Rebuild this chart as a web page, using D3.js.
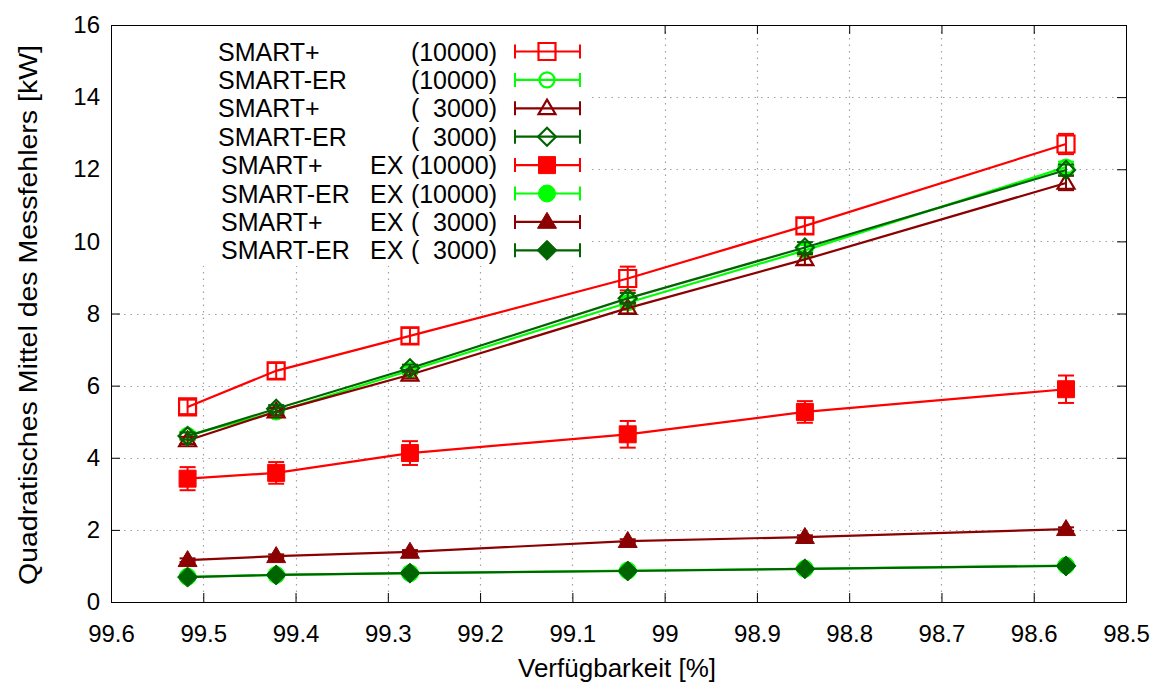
<!DOCTYPE html>
<html>
<head>
<meta charset="utf-8">
<script src="https://cdn.jsdelivr.net/npm/d3@7"></script>
<style>
  html, body { margin: 0; padding: 0; background: #fff; }
  svg { display: block; font-family: "Liberation Sans", Arial, sans-serif; }
</style>
</head>
<body>
<svg id="chart" width="1155" height="686"></svg>
<script>
// Availability (x) of each measurement campaign
const availability = [99.517, 99.421, 99.276, 99.040, 98.848, 98.565];

// RMS of the measurement error [kW] with the half-width of the error bar
const smartPlus10k      = [5.41, 6.41, 7.38, 8.97, 10.43, 12.70];
const smartPlus10kErr   = [0.20, 0.22, 0.22, 0.33, 0.22, 0.28];
const smartEr10k        = [4.62, 5.27, 6.42, 8.30, 9.75, 12.06];
const smartEr10kErr     = [0.10, 0.10, 0.10, 0.15, 0.15, 0.15];
const smartPlus3k       = [4.48, 5.28, 6.30, 8.15, 9.50, 11.62];
const smartPlus3kErr    = [0.10, 0.10, 0.10, 0.15, 0.15, 0.20];
const smartEr3k         = [4.60, 5.36, 6.48, 8.42, 9.83, 11.98];
const smartEr3kErr      = [0.10, 0.10, 0.10, 0.15, 0.15, 0.15];
const smartPlusEx10k    = [3.42, 3.58, 4.13, 4.65, 5.27, 5.90];
const smartPlusEx10kErr = [0.32, 0.30, 0.33, 0.37, 0.30, 0.38];
const smartErEx10k      = [0.70, 0.75, 0.80, 0.87, 0.92, 1.01];
const smartErEx10kErr   = [0.03, 0.03, 0.03, 0.03, 0.03, 0.03];
const smartPlusEx3k     = [1.16, 1.27, 1.39, 1.69, 1.80, 2.02];
const smartPlusEx3kErr  = [0.05, 0.05, 0.05, 0.05, 0.05, 0.05];
const smartErEx3k       = [0.69, 0.75, 0.80, 0.86, 0.92, 1.00];
const smartErEx3kErr    = [0.03, 0.03, 0.03, 0.03, 0.03, 0.03];

// Legend texts: method, variant, sample count
const seriesNames  = ["SMART+", "SMART-ER", "SMART+", "SMART-ER", "SMART+", "SMART-ER", "SMART+", "SMART-ER"];
const seriesEx     = ["", "", "", "", "EX", "EX", "EX", "EX"];
const seriesCounts = ["10000", "10000", "3000", "3000", "10000", "10000", "3000", "3000"];

// Axis ticks
const xTicks = [99.6, 99.5, 99.4, 99.3, 99.2, 99.1, 99.0, 98.9, 98.8, 98.7, 98.6, 98.5];
const yTicks = [0, 2, 4, 6, 8, 10, 12, 14, 16];

const seriesValues = [smartPlus10k, smartEr10k, smartPlus3k, smartEr3k,
                      smartPlusEx10k, smartErEx10k, smartPlusEx3k, smartErEx3k];
const seriesErrors = [smartPlus10kErr, smartEr10kErr, smartPlus3kErr, smartEr3kErr,
                      smartPlusEx10kErr, smartErEx10kErr, smartPlusEx3kErr, smartErEx3kErr];

// Styles per series
const RED = "#ff0000", LGREEN = "#00ff00", DRED = "#8b0000", DGREEN = "#006400";
const styles = [
  { color: RED,    shape: "square",   filled: false },
  { color: LGREEN, shape: "circle",   filled: false },
  { color: DRED,   shape: "triangle", filled: false },
  { color: DGREEN, shape: "diamond",  filled: false },
  { color: RED,    shape: "square",   filled: true },
  { color: LGREEN, shape: "circle",   filled: true },
  { color: DRED,   shape: "triangle", filled: true },
  { color: DGREEN, shape: "diamond",  filled: true }
];

const svg = d3.select("#chart");
const pLeft = 111, pRight = 1126, pTop = 25, pBottom = 602;
const x = d3.scaleLinear().domain([99.6, 98.5]).range([pLeft, pRight]);
const y = d3.scaleLinear().domain([0, 16]).range([pBottom, pTop]);
const TICK_FONT = 24, KEY_FONT = 25, TITLE_FONT = 25;

// Dotted grid
const grid = svg.append("g").attr("stroke", "#a0a0a0").attr("stroke-width", 1.2)
  .attr("stroke-dasharray", "1.5,5");
grid.selectAll("line.gx").data(xTicks.slice(1, -1)).join("line")
  .attr("class", "gx")
  .attr("x1", d => Math.round(x(d)) + 0.5).attr("x2", d => Math.round(x(d)) + 0.5)
  .attr("y1", pTop).attr("y2", pBottom);
grid.selectAll("line.gy").data(yTicks.slice(1, -1)).join("line")
  .attr("class", "gy")
  .attr("x1", pLeft).attr("x2", pRight)
  .attr("y1", d => Math.round(y(d)) + 0.5).attr("y2", d => Math.round(y(d)) + 0.5);

// Axes with inward ticks, mirrored on the top and right edges
function styleAxis(g) {
  g.select(".domain").remove();
  g.selectAll(".tick line").attr("stroke", "#000").attr("stroke-width", 1);
  g.selectAll(".tick text").attr("font-size", TICK_FONT).attr("fill", "#000")
    .attr("font-family", "Liberation Sans, Arial, sans-serif");
}
svg.append("g").attr("transform", `translate(${pLeft},0)`)
  .call(d3.axisLeft(y).tickValues(yTicks).tickSize(-9).tickPadding(11).tickFormat(d3.format("d")))
  .call(styleAxis);
svg.append("g").attr("transform", `translate(${pRight},0)`)
  .call(d3.axisRight(y).tickValues(yTicks).tickSize(-9).tickFormat(""))
  .call(styleAxis);
svg.append("g").attr("transform", `translate(0,${pBottom})`)
  .call(d3.axisBottom(x).tickValues(xTicks).tickSize(-9).tickPadding(23).tickFormat(d => String(+d.toFixed(1))))
  .call(styleAxis);
svg.append("g").attr("transform", `translate(0,${pTop})`)
  .call(d3.axisTop(x).tickValues(xTicks).tickSize(-9).tickFormat(""))
  .call(styleAxis);

// Key box (opaque, hides the grid behind the legend)
const keyX0 = pLeft + 1, keyX1 = 592, keyY0 = pTop + 1, keyY1 = 266;
svg.append("rect").attr("x", keyX0).attr("y", keyY0)
  .attr("width", keyX1 - keyX0).attr("height", keyY1 - keyY0).attr("fill", "#fff");

// Marker path generator
function markerPath(shape, filled) {
  if (shape === "square") {
    const h = filled ? 8.5 : 8.5;
    return `M${-h},${-h}H${h}V${h}H${-h}Z`;
  }
  if (shape === "circle") {
    const r = filled ? 8.5 : 7.5;
    return `M${r},0A${r},${r} 0 1,1 ${-r},0A${r},${r} 0 1,1 ${r},0Z`;
  }
  if (shape === "triangle") {
    const w = filled ? 9.5 : 8.5, h = filled ? 16 : 14.5;
    return `M0,${-h * 0.6}L${w},${h * 0.4}L${-w},${h * 0.4}Z`;
  }
  const d = filled ? 10 : 9;
  return `M0,${-d}L${d},0L0,${d}L${-d},0Z`;
}

function drawMarker(g, cx, cy, st) {
  g.append("path").attr("d", markerPath(st.shape, st.filled))
    .attr("transform", `translate(${cx},${cy})`)
    .attr("fill", st.filled ? st.color : "none")
    .attr("stroke", st.color).attr("stroke-width", st.filled ? 1 : 2.2);
}

// Data series: lines, error bars, markers
const line = d3.line().x(d => x(d.x)).y(d => y(d.y));
const plot = svg.append("g");
seriesValues.forEach((vals, i) => {
  const st = styles[i];
  const pts = vals.map((v, k) => ({ x: availability[k], y: v, e: seriesErrors[i][k] }));
  const g = plot.append("g");
  g.append("path").datum(pts).attr("d", line).attr("fill", "none")
    .attr("stroke", st.color).attr("stroke-width", 2.2);
  pts.forEach(p => {
    const cx = x(p.x), y0 = y(p.y - p.e), y1 = y(p.y + p.e);
    g.append("line").attr("x1", cx).attr("x2", cx).attr("y1", y0).attr("y2", y1)
      .attr("stroke", st.color).attr("stroke-width", 2);
    [y0, y1].forEach(yy => g.append("line").attr("x1", cx - 8).attr("x2", cx + 8)
      .attr("y1", yy).attr("y2", yy).attr("stroke", st.color).attr("stroke-width", 2));
    drawMarker(g, cx, y(p.y), st);
  });
});

// Legend
const rowY0 = 51.5, rowStep = 28.4;
const key = svg.append("g").attr("font-size", KEY_FONT).attr("fill", "#000");
seriesNames.forEach((name, i) => {
  const ry = rowY0 + i * rowStep;
  const st = styles[i];
  key.append("text").attr("x", seriesEx[i] ? 221 : 218).attr("y", ry).attr("dy", "0.36em").text(name);
  if (seriesEx[i]) key.append("text").attr("x", 370).attr("y", ry).attr("dy", "0.36em").text(seriesEx[i]);
  key.append("text").attr("x", 411).attr("y", ry).attr("dy", "0.36em").text("(");
  key.append("text").attr("x", 497).attr("y", ry).attr("dy", "0.36em")
    .attr("text-anchor", "end").text(seriesCounts[i] + ")");
  const lg = key.append("g");
  lg.append("line").attr("x1", 515).attr("x2", 580).attr("y1", ry).attr("y2", ry)
    .attr("stroke", st.color).attr("stroke-width", 2.2);
  [515, 580].forEach(xx => lg.append("line").attr("x1", xx).attr("x2", xx)
    .attr("y1", ry - 7).attr("y2", ry + 7).attr("stroke", st.color).attr("stroke-width", 2));
  drawMarker(lg, 547, ry, st);
});

// Frame
svg.append("rect").attr("x", pLeft + 0.5).attr("y", pTop + 0.5)
  .attr("width", pRight - pLeft).attr("height", pBottom - pTop)
  .attr("fill", "none").attr("stroke", "#000").attr("stroke-width", 1);

// Axis titles
svg.append("text").attr("x", 617).attr("y", 677).attr("text-anchor", "middle")
  .attr("font-size", TITLE_FONT).attr("textLength", 198).attr("lengthAdjust", "spacingAndGlyphs")
  .text("Verfügbarkeit [%]");
svg.append("text").attr("transform", `translate(37,315) rotate(-90)`)
  .attr("text-anchor", "middle").attr("font-size", TITLE_FONT)
  .attr("textLength", 540).attr("lengthAdjust", "spacingAndGlyphs")
  .text("Quadratisches Mittel des Messfehlers [kW]");
</script>
</body>
</html>
